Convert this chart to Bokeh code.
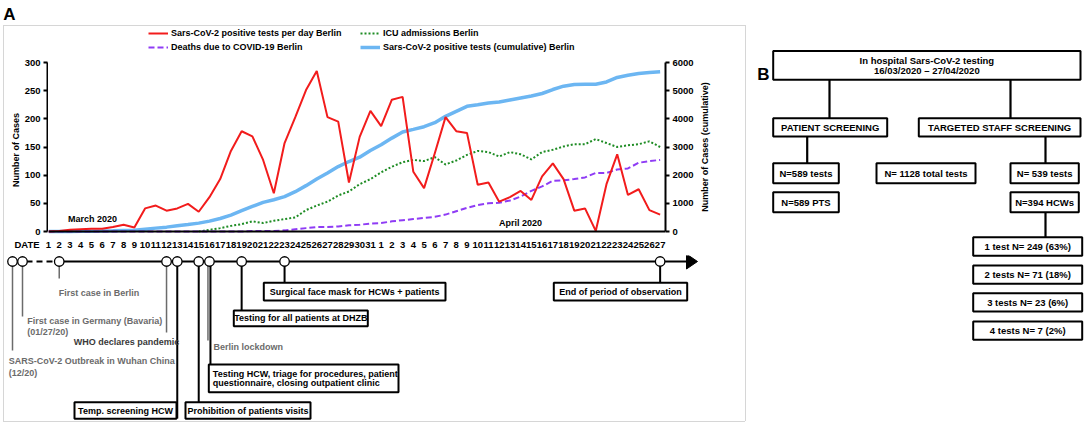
import math
from bokeh.plotting import figure
from bokeh.models import Range1d, LinearAxis, FixedTicker, Legend, LegendItem, Span
from bokeh.layouts import row, column
from bokeh.embed import file_html
from bokeh.resources import INLINE
from bokeh.core.properties import value

NAN = float("nan")

# ---------------- data ----------------
DAY_LABELS = [str(d) for d in range(1, 32)] + [str(d) for d in range(1, 28)]

POSITIVE_PER_DAY = [0, 1, 3, 4, 5, 5, 8, 12, 7, 41, 46, 37, 41, 49, 35, 61, 93, 143, 178, 169,
                    127, 68, 157, 203, 251, 285, 203, 195, 87, 168, 214,
                    187, 234, 239, 106, 77, 139, 203, 178, 175, 83, 87, 53, 61, 72, 56, 98, 121,
                    93, 37, 41, 1, 84, 137, 65, 75, 38, 30]

ICU_ADMISSIONS = [NAN] * 14 + [0, 3, 6, 10, 13, 18, 15, 19, 22, 25, 38, 46, 53, 64, 71, 84, 93,
                               105, 115, 123, 127, 125, 132, 119, 126, 136, 143, 141, 133, 141,
                               137, 128, 141, 145, 151, 155, 155, 164, 157, 150, 153, 155, 160, 150]

DEATHS = [0] * 17 + [0, 0, 1, 1, 1, 2, 4, 6, 8, 8, 9, 11, 12, 14,
                     15, 18, 20, 22, 24, 26, 30, 36, 42, 47, 50, 51, 55, 62, 72, 80, 90, 91,
                     93, 96, 104, 104, 110, 112, 122, 125, 127]

CUMULATIVE = [0, 1, 3, 7, 12, 17, 25, 37, 45, 83, 120, 155, 205, 250, 297, 368, 463, 582, 737,
              891, 1034, 1129, 1236, 1414, 1628, 1866, 2080, 2305, 2484, 2638, 2876,
              3078, 3316, 3530, 3624, 3720, 3862, 4088, 4266, 4444, 4500, 4560, 4600, 4670,
              4740, 4810, 4900, 5040, 5160, 5220, 5230, 5230, 5310, 5470, 5550, 5610, 5645, 5670]

LEFT_TICKS = [0, 50, 100, 150, 200, 250, 300]
RIGHT_TICKS = [0, 1000, 2000, 3000, 4000, 5000, 6000]
DATE_TICK = -2          # position of the "DATE" caption on the day axis

IDX = list(range(len(DAY_LABELS)))

FONT = "Liberation Sans"
RED, GREEN, PURPLE, BLUE = "#f21c1c", "#1e8c24", "#8f3cf5", "#6cb6f2"
GRAY = "#6b6b6b"

# ---------------- geometry (page pixels) ----------------
FR_L, FR_R, FR_T, FR_B = 48, 665, 62, 231     # chart frame (y=0 baseline at FR_B)
XMAX = 57.5
DX = (FR_R - FR_L) / XMAX
SY = (FR_B - FR_T) / 300.0
TOP_H = 56             # strip with "A" and the legend
CH_BOT = 237           # bottom of the chart canvases
XS_BOT = 255           # bottom of the day-label strip / top of timeline
LEFT_W = 48
RIGHT_LBL_X = 697
PANEL_A_W = 748
TOTAL_H = 425
Y_START = -(CH_BOT - FR_B) / SY


def nofr(fig):
    fig.outline_line_color = None
    fig.background_fill_alpha = 0
    fig.border_fill_alpha = 0
    try:
        fig.frame_align = False
    except Exception:
        pass
    return fig


def canvas(w, h, x0, y0):
    f = figure(width=w, height=h, output_backend="svg", toolbar_location=None,
               x_range=Range1d(x0, x0 + w), y_range=Range1d(y0 + h, y0),
               x_axis_location=None, y_axis_location=None, min_border=0)
    f.grid.visible = False
    return nofr(f)


def ttext(fig, x, y, s, color="black", align="left", size="9px", angle=0):
    fig.text([x], [y], text=[s], text_font=value(FONT), text_font_style="bold",
             text_font_size=size, text_color=color, text_align=align, text_baseline="middle",
             angle=angle)


def style_axis(ax, tick_size="9.5px"):
    ax.axis_line_color = "black"
    ax.axis_line_width = 2
    ax.major_tick_line_color = "black"
    ax.major_tick_line_width = 2
    ax.major_tick_out = 4
    ax.major_tick_in = 0
    ax.minor_tick_line_color = None
    ax.major_label_text_font = FONT
    ax.major_label_text_font_style = "bold"
    ax.major_label_text_font_size = tick_size
    ax.major_label_text_color = "black"
    ax.axis_label_text_font = FONT
    ax.axis_label_text_font_style = "bold"
    ax.axis_label_text_font_size = "9px"
    ax.axis_label_text_color = "black"


CH_H = CH_BOT - TOP_H

# ---------------- chart ----------------
p = figure(width=RIGHT_LBL_X - LEFT_W, height=CH_H, output_backend="svg", toolbar_location=None,
           x_range=Range1d(0, XMAX), y_range=Range1d(Y_START, 300),
           x_axis_location=None, y_axis_location=None,
           min_border_left=0, min_border_right=RIGHT_LBL_X - FR_R,
           min_border_top=FR_T - TOP_H, min_border_bottom=0)
nofr(p)
p.grid.visible = False
p.extra_y_ranges = {"cum": Range1d(Y_START * 20, 6000)}

yr = LinearAxis(y_range_name="cum", ticker=FixedTicker(ticks=RIGHT_TICKS), bounds=(0, 6000))
style_axis(yr)
yr.major_label_standoff = 3
p.add_layout(yr, "right")

p.add_layout(Span(location=0, dimension="width", line_color="black", line_width=2))

p.line(IDX, CUMULATIVE, y_range_name="cum", line_color=BLUE, line_width=3.5)
p.line(IDX, ICU_ADMISSIONS, line_color=GREEN, line_width=2, line_dash="2 2")
p.line(IDX, DEATHS, line_color=PURPLE, line_width=2, line_dash="6 3")
p.line(IDX, POSITIVE_PER_DAY, line_color=RED, line_width=2)

p.text([(92 - FR_L) / DX, (520 - FR_L) / DX], [(FR_B - 218) / SY, (FR_B - 222) / SY],
       text=["March 2020", "April 2020"], text_font=value(FONT), text_font_style="bold",
       text_font_size="9px", text_color="black", text_align="center", text_baseline="middle")

# ---------------- left axis strip ----------------
ls = figure(width=LEFT_W, height=CH_H, output_backend="svg", toolbar_location=None,
            x_range=Range1d(0, 1), y_range=p.y_range,
            x_axis_location=None, y_axis_location=None,
            min_border_left=LEFT_W - 1, min_border_right=0,
            min_border_top=FR_T - TOP_H, min_border_bottom=0)
nofr(ls)
ls.grid.visible = False
yl = LinearAxis(ticker=FixedTicker(ticks=LEFT_TICKS), bounds=(0, 300), axis_label="Number of Cases")
style_axis(yl)
yl.major_label_standoff = 3
yl.axis_label_standoff = 1
ls.add_layout(yl, "left")

# ---------------- right axis title strip ----------------
rl = canvas(PANEL_A_W - RIGHT_LBL_X, CH_H, RIGHT_LBL_X, TOP_H)
ttext(rl, 704, (FR_T + FR_B) / 2, "Number of Cases (cumulative)", align="center",
      angle=math.pi / 2)

# ---------------- day labels strip ----------------
xs = figure(width=PANEL_A_W, height=XS_BOT - CH_BOT, output_backend="svg", toolbar_location=None,
            x_range=Range1d(-FR_L / DX, (PANEL_A_W - FR_L) / DX), y_range=Range1d(0, 1),
            x_axis_location=None, y_axis_location=None,
            min_border_left=0, min_border_right=0, min_border_top=0,
            min_border_bottom=XS_BOT - CH_BOT - 1)
nofr(xs)
xs.grid.visible = False
overrides = {i: s for i, s in enumerate(DAY_LABELS)}
overrides[DATE_TICK] = "DATE"
xb = LinearAxis(ticker=FixedTicker(ticks=[DATE_TICK] + IDX), major_label_overrides=overrides)
style_axis(xb, "9.5px")
xb.axis_line_color = None
xb.major_tick_line_color = None
xb.major_tick_out = 0
xb.major_label_standoff = 0
xs.add_layout(xb, "below")

# ---------------- top strip: "A" and legend ----------------
top = canvas(PANEL_A_W, TOP_H, 0, 0)
ttext(top, 9, 14, "A", align="center", size="17px")
OFF = [-20, -10]
lr_red = top.line(OFF, OFF, line_color=RED, line_width=2)
lr_pur = top.line(OFF, OFF, line_color=PURPLE, line_width=2, line_dash="6 3")
lr_grn = top.line(OFF, OFF, line_color=GREEN, line_width=2, line_dash="2 2")
lr_blu = top.line(OFF, OFF, line_color=BLUE, line_width=3.5)


def make_legend(items, x_px):
    return Legend(items=items, location=(x_px, TOP_H - 53),
                  padding=0, margin=0, spacing=2, label_standoff=3,
                  glyph_width=20, glyph_height=12, label_height=12,
                  label_text_font=FONT, label_text_font_style="bold",
                  label_text_font_size="9px", label_text_color="black",
                  border_line_color=None, background_fill_alpha=0)


top.add_layout(make_legend([LegendItem(label="Sars-CoV-2 positive tests per day Berlin", renderers=[lr_red]),
                            LegendItem(label="Deaths due to COVID-19 Berlin", renderers=[lr_pur])], 148))
top.add_layout(make_legend([LegendItem(label="ICU admissions Berlin", renderers=[lr_grn]),
                            LegendItem(label="Sars-CoV-2 positive tests (cumulative) Berlin", renderers=[lr_blu])], 360))

# ---------------- timeline ----------------
t = canvas(PANEL_A_W, TOTAL_H - XS_BOT, 0, XS_BOT)
LY = 261


def day_px(idx):
    return FR_L + idx * DX


EV_X = [12, 22, day_px(1), day_px(11), day_px(12), day_px(14), day_px(15), day_px(18),
        day_px(22), day_px(57)]

t.line([EV_X[0], EV_X[1]], [LY, LY], line_color="black", line_width=2)
t.line([EV_X[1] + 4, EV_X[2] - 4], [LY, LY], line_color="black", line_width=2, line_dash="6 4")
t.line([EV_X[2], 688], [LY, LY], line_color="black", line_width=2)
t.patch([686, 697, 686], [LY - 7.5, LY, LY + 7.5], fill_color="black", line_color="black")

stems = [(EV_X[0], 350, GRAY, 1.5), (EV_X[1], 316, GRAY, 1.5), (EV_X[2], 278, GRAY, 1.5),
         (EV_X[3], 332, GRAY, 1.5), (EV_X[4], 418, "black", 2), (EV_X[5], 401.7, "black", 2),
         (EV_X[6] - 1.5, 340, GRAY, 1.5), (EV_X[6] + 1, 364, "black", 2),
         (EV_X[7], 310, "black", 2), (EV_X[8], 282.3, "black", 2), (EV_X[9], 282.3, "black", 2)]
for sx, sb, sc, sw in stems:
    t.line([sx, sx], [LY, sb], line_color=sc, line_width=sw)

t.scatter(EV_X, [LY] * len(EV_X), size=9.5, marker="circle", fill_color="white",
          line_color="black", line_width=1.3)

ttext(t, 58.3, 292.7, "First case in Berlin", GRAY)
ttext(t, 26.7, 320, "First case in Germany (Bavaria)", GRAY)
ttext(t, 26.7, 331, "(01/27/20)", GRAY)
ttext(t, 73.3, 341.7, "WHO declares pandemic", "#3a3a3a")
ttext(t, 8.3, 360.7, "SARS-CoV-2 Outbreak in Wuhan China", GRAY)
ttext(t, 8.3, 372, "(12/20)", GRAY)
ttext(t, 213, 346.7, "Berlin lockdown", GRAY)


def tbox(fig, l, r, top_, bot, lines, size="9px", align="center", pad=4):
    fig.quad(left=[l], right=[r], top=[top_], bottom=[bot], fill_color="white",
             line_color="black", line_width=2)
    n = len(lines)
    h = bot - top_
    for i, s in enumerate(lines):
        yy = top_ + h * (i + 1) / (n + 1) if n > 1 else (top_ + bot) / 2
        xx = (l + r) / 2 if align == "center" else l + pad
        ttext(fig, xx, yy, s, "black", align, size)


tbox(t, 74, 176, 401.7, 418.3, ["Temp. screening HCW"])
tbox(t, 185, 310, 401.7, 418.3, ["Prohibition of patients visits"])
tbox(t, 208.3, 398, 364, 391.7, ["Testing HCW, triage for procedures, patient",
                                 "questionnaire, closing outpatient clinic"], align="left")
tbox(t, 233.3, 367.3, 310, 325.7, ["Testing for all patients at DHZB"])
tbox(t, 263.3, 445, 282.3, 300, ["Surgical face mask for HCWs + patients"])
tbox(t, 553.3, 686.7, 282.3, 300, ["End of period of observation"])

# ---------------- panel B ----------------
b = canvas(1084 - PANEL_A_W, TOTAL_H, PANEL_A_W, 0)
ttext(b, 763, 74, "B", size="17px", align="center")

for cx, y0, y1 in [(829, 79.3, 117.7), (1010, 79.3, 117.7), (806.7, 136, 162.7),
                   (1045, 136, 162.7), (1045, 211.7, 236.7)]:
    b.line([cx, cx], [y0, y1], line_color="black", line_width=2.2)

BS = "9.5px"
tbox(b, 772.7, 1080, 50.5, 79.3, ["In hospital Sars-CoV-2 testing", "16/03/2020 \u2013 27/04/2020"], BS)
tbox(b, 772.7, 886.7, 117.7, 136, ["PATIENT SCREENING"], BS)
tbox(b, 918.3, 1080, 117.7, 136, ["TARGETED STAFF SCREENING"], BS)
tbox(b, 772.7, 838.3, 162.7, 182.7, ["N=589 tests"], BS)
tbox(b, 876, 975, 162.7, 182.7, ["N= 1128 total tests"], BS)
tbox(b, 1010, 1078.3, 162.7, 182.7, ["N= 539 tests"], BS)
tbox(b, 772.7, 838.3, 191.7, 211.7, ["N=589 PTS"], BS)
tbox(b, 1010, 1078.3, 191.7, 211.7, ["N=394 HCWs"], BS)
tbox(b, 972.7, 1081.7, 236.7, 255.3, ["1 test N= 249 (63%)"], BS)
tbox(b, 972.7, 1081.7, 265, 283.3, ["2 tests N= 71 (18%)"], BS)
tbox(b, 972.7, 1081.7, 292.7, 311, ["3 tests N= 23 (6%)"], BS)
tbox(b, 972.7, 1081.7, 321, 339.3, ["4 tests N= 7 (2%)"], BS)

# ---------------- layout ----------------
colA = column(top, row(ls, p, rl, spacing=0), xs, t, spacing=0)
try:
    g = "linear-gradient(#d6d6d6,#d6d6d6)"
    colA.styles = {
        "background-image": ", ".join([g] * 4),
        "background-size": "1px 396px, 742px 1px, 742px 1px, 1px 396px",
        "background-position": "3px 25px, 3px 25px, 3px 421px, 745px 25px",
        "background-repeat": "no-repeat",
    }
except Exception:
    pass
layout = row(colA, b, spacing=0)
open("out.html", "w").write(file_html(layout, INLINE))
